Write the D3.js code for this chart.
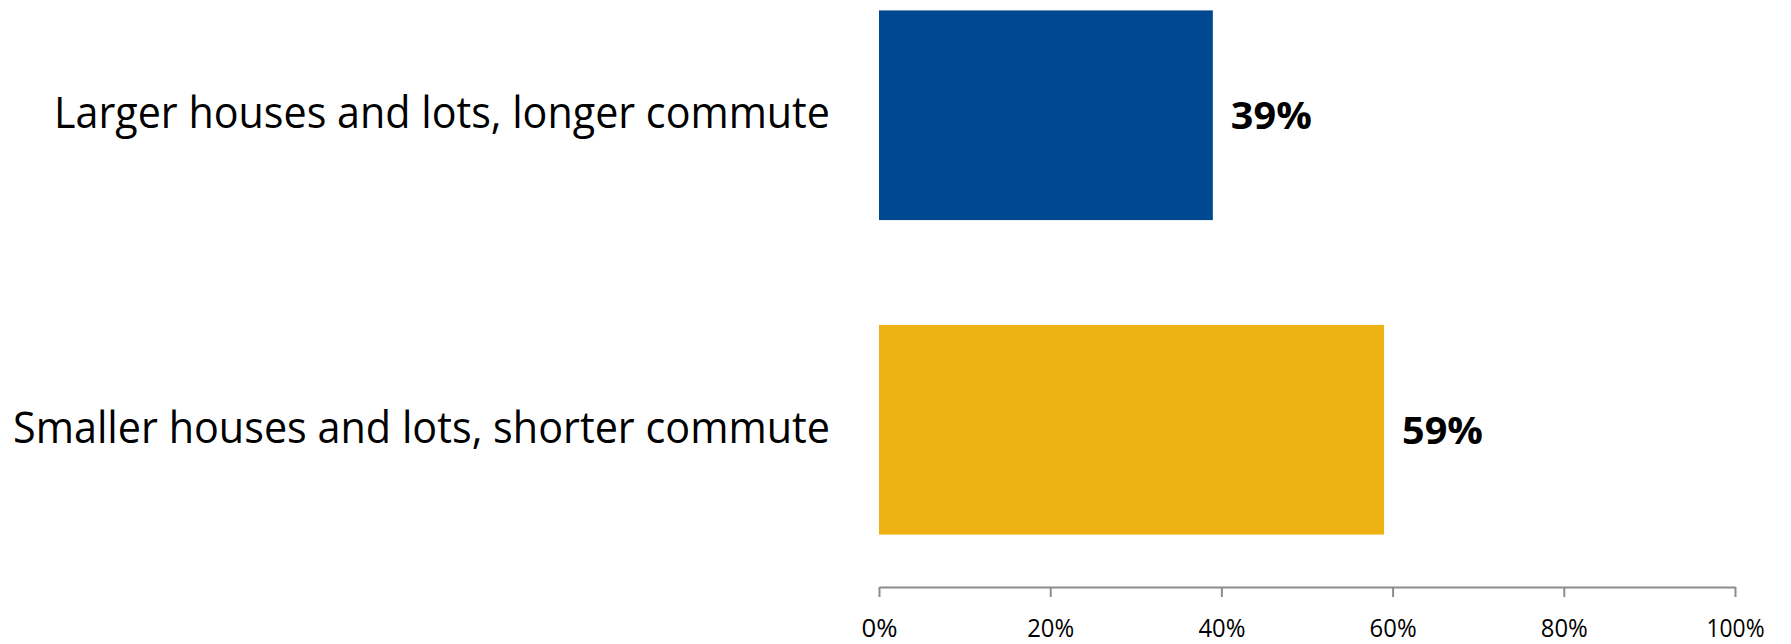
<!DOCTYPE html>
<html>
<head>
<meta charset="utf-8">
<script src="https://cdn.jsdelivr.net/npm/d3@7"></script>
<style>
  html, body { margin: 0; padding: 0; background: #ffffff; }
  svg { display: block; }
  text { font-family: "Open Sans", "Noto Sans", sans-serif; }
</style>
</head>
<body>
<svg id="chart" width="1791" height="644"></svg>
<script>
// Housing preference data
const categories = [
  "Larger houses and lots, longer commute",
  "Smaller houses and lots, shorter commute"
];
const values = [39, 59];
const barColors = ["#004990", "#EEB214"];
const tickValues = [0, 20, 40, 60, 80, 100];

const W = 1791, H = 644;
const plot = { left: 879, right: 1735, top: -42, bottom: 587 };

const svg = d3.select("#chart");

const x = d3.scaleLinear().domain([0, 100]).range([plot.left, plot.right]);
const y = d3.scaleBand()
  .domain(categories)
  .range([plot.top, plot.bottom])
  .paddingInner(1 / 3)
  .paddingOuter(1 / 6);

const data = categories.map((c, i) => ({ cat: c, value: values[i], color: barColors[i] }));

// Bars
svg.append("g")
  .selectAll("rect")
  .data(data)
  .join("rect")
  .attr("x", x(0))
  .attr("y", d => y(d.cat))
  .attr("width", d => x(d.value) - x(0))
  .attr("height", y.bandwidth())
  .attr("fill", d => d.color);

// Value labels at bar ends
svg.append("g")
  .selectAll("text")
  .data(data)
  .join("text")
  .attr("x", d => x(d.value) + 18)
  .attr("y", d => y(d.cat) + y.bandwidth() / 2 + 14)
  .attr("font-size", 38)
  .attr("font-weight", 700)
  .attr("fill", "#000")
  .attr("textLength", 81)
  .attr("lengthAdjust", "spacingAndGlyphs")
  .text(d => d.value + "%");

// Category labels, right-aligned against the plot
const catWidths = [776, 817];
svg.append("g")
  .selectAll("text")
  .data(data)
  .join("text")
  .attr("x", (d, i) => 830 - catWidths[i])
  .attr("y", d => y(d.cat) + y.bandwidth() / 2 + 13)
  .attr("font-size", 43)
  .attr("fill", "#000")
  .attr("textLength", (d, i) => catWidths[i])
  .attr("lengthAdjust", "spacingAndGlyphs")
  .text(d => d.cat);

// Horizontal value axis
const xAxis = d3.axisBottom(x)
  .tickValues(tickValues)
  .tickFormat(d => d + "%")
  .tickSizeInner(10)
  .tickSizeOuter(0)
  .tickPadding(23);

const gx = svg.append("g")
  .attr("transform", `translate(0,${plot.bottom})`)
  .call(xAxis);

gx.select(".domain").attr("stroke", "#8c8c8c").attr("stroke-width", 2);
gx.selectAll(".tick line").attr("stroke", "#8c8c8c").attr("stroke-width", 2);
gx.selectAll(".tick text")
  .attr("font-size", 26)
  .attr("font-family", "'Open Sans', 'Noto Sans', sans-serif")
  .attr("fill", "#000")
  .attr("dy", null)
  .attr("y", 50)
  .each(function (d) {
    const t = d3.select(this);
    const w = d === 100 ? 58 : (d === 0 ? 36 : 47);
    t.attr("textLength", w).attr("lengthAdjust", "spacingAndGlyphs");
  });
</script>
</body>
</html>
